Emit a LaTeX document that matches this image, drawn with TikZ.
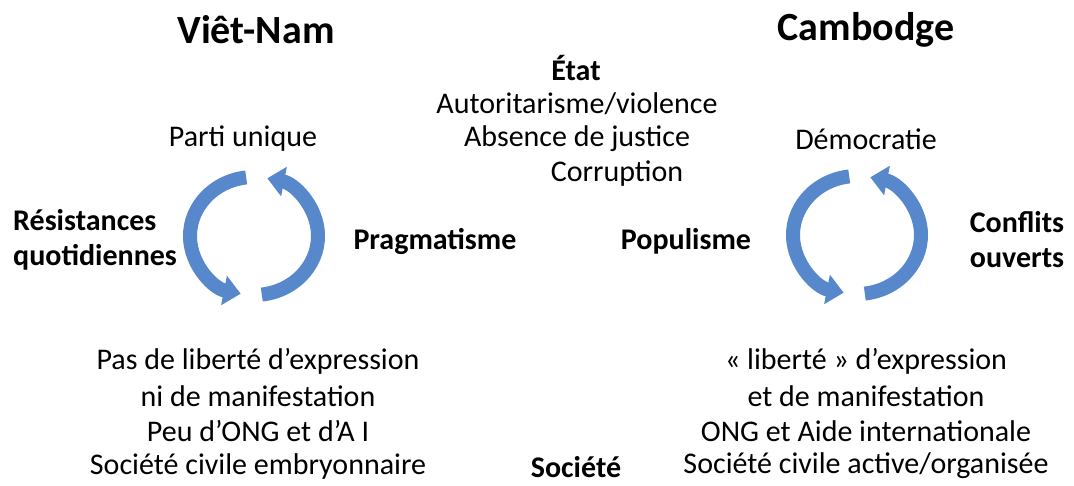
\documentclass[tikz,border=0pt]{standalone}
\usepackage{fontspec}
\setmainfont{Carlito}
\usetikzlibrary{arrows.meta}

\definecolor{cyclebl}{RGB}{86,136,203}

\tikzset{
  txt/.style={font=\fontsize{30}{35}\selectfont, inner sep=0pt, anchor=center},
  bld/.style={txt, font=\fontsize{30}{35}\selectfont\bfseries},
  country/.style={txt, font=\fontsize{40}{45}\selectfont\bfseries},
  cyc/.style={cyclebl, line width=14pt, -{Triangle[width=29pt,length=17pt]}}
}

\begin{document}
\begin{tikzpicture}[x=1pt,y=-1pt]
  \useasboundingbox (0,0) rectangle (1074,485);

  % headings
  \node[country] (vn) at (256,30) {Viêt-Nam};
  \node[country] (kh) at (866,30) {Cambodge};

  % state
  \node[bld] (etat) at (576,68) {État};
  \node[txt] (aut) at (577,104) {Autoritarisme/violence};
  \node[txt] (abs) at (577,139) {Absence de justice};
  \node[txt] (cor) at (617,174) {Corruption};

  \node[txt] (parti) at (243,139) {Parti unique};
  \node[txt] (demo) at (866,139) {Démocratie};

  % side labels
  \node[bld, align=left, anchor=west] (resist) at (13,240) {Résistances\\quotidiennes};
  \node[bld] (pragma) at (435,241) {Pragmatisme};
  \node[bld] (popu) at (686,241) {Populisme};
  \node[bld, align=center] (confl) at (1017,240) {Conflits\\ouverts};

  % society
  \foreach \txtline [count=\k] in {Pas de liberté d’expression, ni de manifestation,
      Peu d’ONG et d’A I, Société civile embryonnaire}
    \node[txt] (vs\k) at (258,{326+35*\k}) {\txtline};
  \foreach \txtline [count=\k] in {« liberté » d’expression, et de manifestation,
      ONG et Aide internationale, Société civile active/organisée}
    \node[txt] (ks\k) at (866,{326+35*\k}) {\txtline};
  \node[bld] (soc) at (576,467) {Société};

  % cycles
  \foreach \cx/\cy in {254/236, 857/235} {
    \draw[cyc] (\cx,\cy) ++(-97:64 and 59) arc[start angle=-97, end angle=-258, x radius=64, y radius=59];
    \draw[cyc] (\cx,\cy) ++(83:64 and 59) arc[start angle=83, end angle=-78, x radius=64, y radius=59];
  }
\end{tikzpicture}
\end{document}
